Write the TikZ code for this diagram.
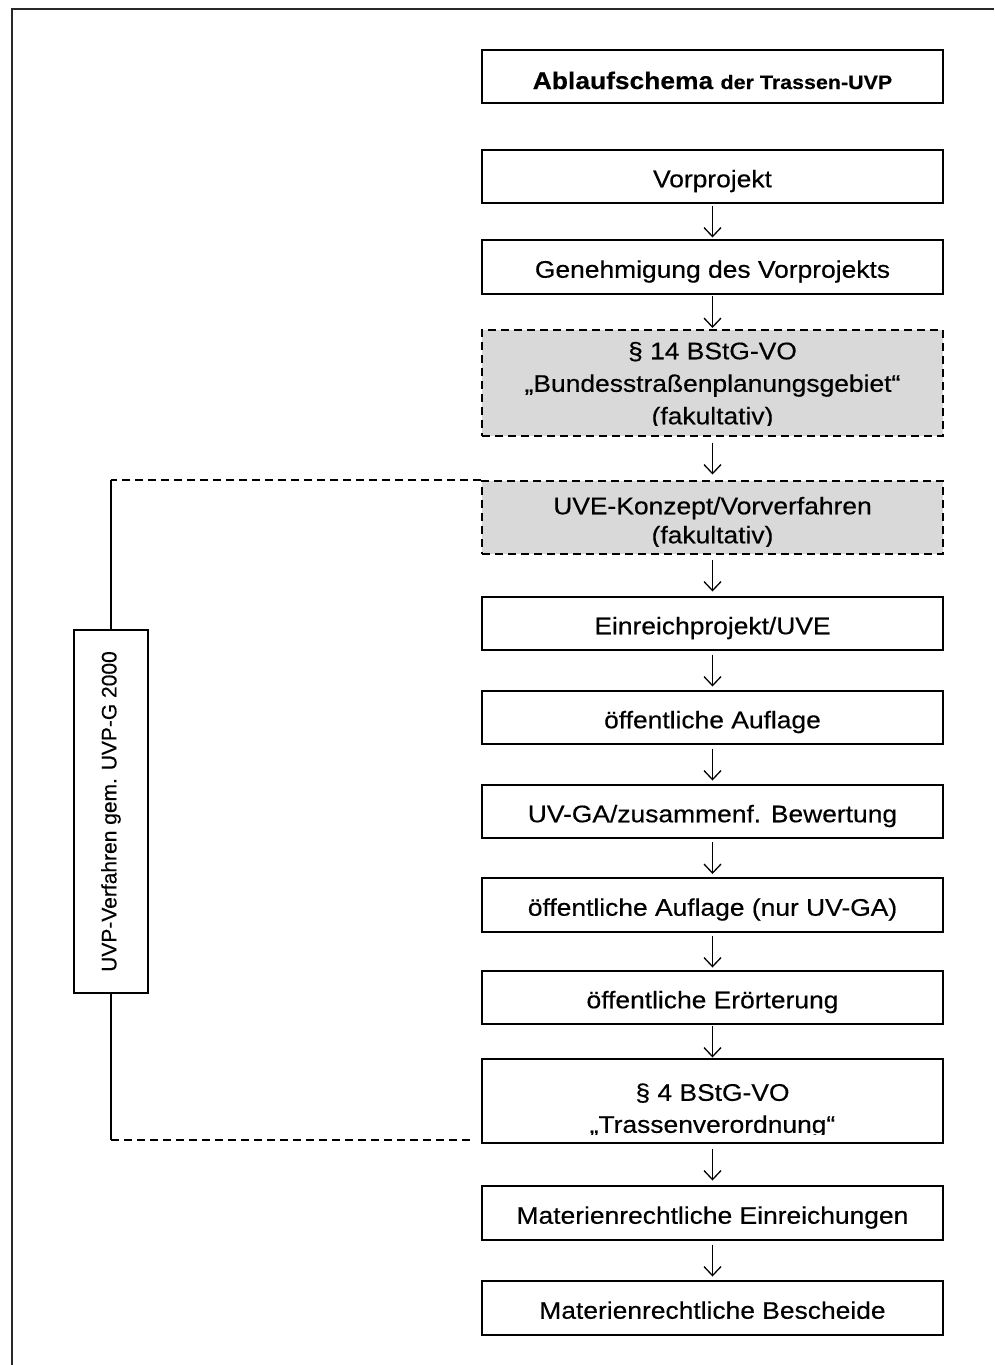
\documentclass[tikz,border=0pt]{standalone}
\usepackage{fontspec}
\setmainfont{Liberation Sans}[FakeStretch=1.1, FakeBold=0.4]
\newfontfamily\rotfont{Liberation Sans}[FakeBold=0.4]
\usetikzlibrary{arrows.meta}
\definecolor{boxgray}{RGB}{217,217,217}
\definecolor{framegray}{RGB}{40,40,40}
\begin{document}
\begin{tikzpicture}[x=1pt,y=-1pt,
  stepbox/.style={draw, line width=1.6pt, minimum width=461pt, minimum height=53pt,
    inner sep=0pt, text height=21.5pt, text depth=0pt,
    font=\fontsize{24}{31}\selectfont, align=center},
  optbox/.style={draw, line width=1.6pt, dash pattern=on 8pt off 5pt, fill=boxgray,
    minimum width=461pt, inner sep=0pt},
  cliptext/.style={inner sep=0pt, align=center, anchor=north},
  flow/.style={line width=1.3pt, -{Straight Barb[length=9pt,width=17pt]}},
  dashline/.style={line width=1.5pt, dash pattern=on 8pt off 5pt},
  solidline/.style={line width=1.5pt}]
\useasboundingbox (0,0) rectangle (994,1365);
% outer frame
\draw[line width=2pt, framegray] (12,1365) -- (12,9) -- (994,9);

% title
\node[stepbox, text height=25pt, text depth=0pt] (title) at (712.5,76.5)
  {\fontsize{24}{28}\selectfont\bfseries Ablaufschema {\fontsize{19.5}{24}\selectfont der Trassen-UVP}};

\node[stepbox] (vor) at (712.5,176.5) {Vorprojekt};
\node[stepbox, minimum height=54pt] (gen) at (712.5,267) {Genehmigung des Vorprojekts};

% § 14 box (text clipped at the bottom)
\node[optbox, minimum height=106pt] (p14) at (712.5,383) {};
\begin{scope}
  \clip (p14.north west) rectangle ([yshift=11pt]p14.south east);
  \node[cliptext, font=\fontsize{24}{32.5}\selectfont] (p14t) at ([yshift=-12.5pt]p14.north)
    {§ 14 BStG-VO\\„Bundesstraßenplanungsgebiet“\\(fakultativ)};
\end{scope}

% UVE-Konzept box
\node[optbox, minimum height=73pt] (uve) at (712.5,517.5) {};
\begin{scope}
  \clip (uve.north west) rectangle ([yshift=8pt]uve.south east);
  \node[cliptext, font=\fontsize{24}{29}\selectfont] (uvet) at ([yshift=-16.5pt]uve.north)
    {UVE-Konzept/Vorverfahren\\(fakultativ)};
\end{scope}

\node[stepbox] (ein) at (712.5,623.5) {Einreichprojekt/UVE};
\node[stepbox] (auf1) at (712.5,717.5) {öffentliche Auflage};
\node[stepbox] (uvga) at (712.5,811.5) {UV-GA/zusammenf. Bewertung};
\node[stepbox, minimum height=54pt] (auf2) at (712.5,905) {öffentliche Auflage (nur UV-GA)};
\node[stepbox] (eroe) at (712.5,997.5) {öffentliche Erörterung};

% § 4 box
\node[draw, line width=1.6pt, minimum width=461pt, minimum height=84pt, inner sep=0pt] (p4) at (712.5,1101) {};
\begin{scope}
  \clip (p4.north west) rectangle ([yshift=9pt]p4.south east);
  \node[cliptext, font=\fontsize{24}{32}\selectfont] (p4t) at ([yshift=-25pt]p4.north)
    {§ 4 BStG-VO\\„Trassenverordnung“};
\end{scope}

\node[stepbox, minimum height=54pt] (mein) at (712.5,1213) {Materienrechtliche Einreichungen};
\node[stepbox, minimum height=54pt] (mbes) at (712.5,1308) {Materienrechtliche Bescheide};

% arrows
\foreach \a/\b in {vor/gen, gen/p14, p14/uve, uve/ein, ein/auf1, auf1/uvga, uvga/auf2, auf2/eroe, eroe/p4, p4/mein, mein/mbes} {
  \path (\a.south) -- (\b.north) coordinate[midway] (m-\a);
  \draw[flow] ([yshift=16pt]m-\a) -- ([yshift=-16pt]m-\a);
}

% left bracket box
\node[draw, line width=1.6pt, rotate=90, minimum width=363pt, minimum height=74pt, inner sep=0pt,
  font=\rotfont\fontsize{21}{25}\selectfont] (lbox) at (111,811.5) {UVP-Verfahren gem. UVP-G 2000};
\coordinate (tl) at (lbox.east |- uve.north);
\coordinate (bl) at (111,1140);
\coordinate (br) at (470,1140);
\draw[dashline] (uve.north west) -- (tl);
\draw[solidline] (tl) -- (lbox.east);
\draw[solidline] (lbox.west) -- (bl);
\draw[dashline] (bl) -- (br);
\end{tikzpicture}
\end{document}
